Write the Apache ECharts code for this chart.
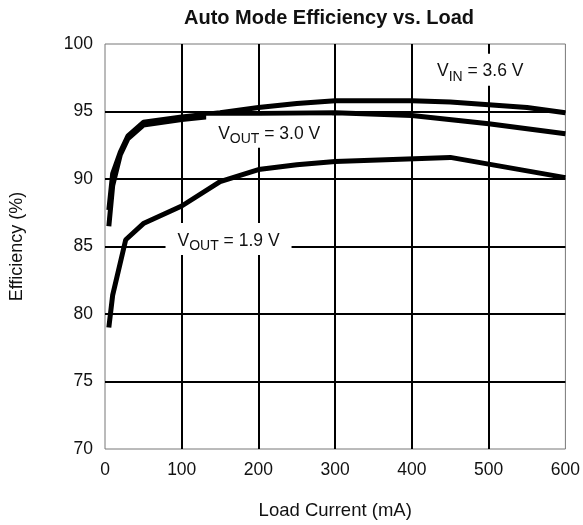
<!DOCTYPE html>
<html>
<head>
<meta charset="utf-8">
<script src="https://cdn.jsdelivr.net/npm/echarts@6/dist/echarts.min.js"></script>
<style>
html,body{margin:0;padding:0;background:#fff;}
#chart{width:583px;height:525px;}
</style>
</head>
<body>
<div id="chart"></div>
<script>
// ---- data ----
var xTicks = [0, 100, 200, 300, 400, 500, 600];
var yTicks = [70, 75, 80, 85, 90, 95, 100];

var loadTop = [5, 10, 20, 30, 50, 100, 150, 200, 250, 300, 400, 450, 500, 550, 600];
var effTop  = [87.7, 90.4, 92.0, 93.2, 94.2, 94.6, 94.9, 95.3, 95.6, 95.8, 95.8, 95.7, 95.5, 95.3, 94.9];

var loadMid = [5, 10, 20, 30, 50, 100, 150, 200, 300, 400, 500, 600];
var effMid  = [86.5, 89.5, 91.8, 93.0, 94.0, 94.4, 94.7, 94.85, 94.9, 94.7, 94.1, 93.35];

var loadLow = [5, 10, 27, 50, 100, 150, 200, 250, 300, 450, 600];
var effLow  = [79.0, 81.4, 85.5, 86.7, 88.0, 89.8, 90.7, 91.05, 91.3, 91.6, 90.1];

var noteText = ['{m|V}{s|IN}{m| = 3.6 V}', '{m|V}{s|OUT}{m| = 3.0 V}', '{m|V}{s|OUT}{m| = 1.9 V}'];
var noteLoad = [489, 214, 161];
var noteEff  = [98.1, 93.5, 85.55];

function pairs(xs, ys) { return xs.map(function (x, i) { return [x, ys[i]]; }); }

var FONT = "'Liberation Sans', Arial, Helvetica, sans-serif";
var chart = echarts.init(document.getElementById('chart'));

var labelStyle = {
  show: true,
  position: 'inside',
  backgroundColor: '#fff',
  padding: [7, 12, 5, 12],
  rich: {
    m: { fontFamily: FONT, fontSize: 17.5, color: '#111', lineHeight: 20, verticalAlign: 'bottom' },
    s: { fontFamily: FONT, fontSize: 14, color: '#111', lineHeight: 15, verticalAlign: 'bottom', padding: [0, 0, -3, 0] }
  }
};

var option = {
  animation: false,
  backgroundColor: '#fff',
  title: {
    text: 'Auto Mode Efficiency vs. Load',
    left: 324, top: 3, textAlign: 'center',
    textStyle: { fontFamily: FONT, fontSize: 20, fontWeight: 'bold', color: '#111' }
  },
  grid: { left: 105, right: 16, top: 44, bottom: 76, show: true, borderColor: '#777', borderWidth: 1, backgroundColor: 'transparent' },
  xAxis: {
    type: 'value', min: xTicks[0], max: xTicks[xTicks.length - 1], interval: 100,
    name: 'Load Current (mA)', nameLocation: 'middle', nameGap: 52,
    nameTextStyle: { fontFamily: FONT, fontSize: 18.5, color: '#111' },
    axisLine: { show: false },
    axisTick: { show: false },
    axisLabel: { margin: 12, fontFamily: FONT, fontSize: 17.5, color: '#111' },
    splitLine: { show: true, showMinLine: false, showMaxLine: false, lineStyle: { color: '#000', width: 2 } }
  },
  yAxis: {
    type: 'value', min: yTicks[0], max: yTicks[yTicks.length - 1], interval: 5,
    name: 'Efficiency (%)', nameLocation: 'middle', nameGap: 79,
    nameTextStyle: { fontFamily: FONT, fontSize: 18, color: '#111' },
    axisLine: { show: false },
    axisTick: { show: false },
    axisLabel: { margin: 12, fontFamily: FONT, fontSize: 17.5, color: '#111' },
    splitLine: { show: true, showMinLine: false, showMaxLine: false, lineStyle: { color: '#000', width: 2 } }
  },
  series: [
    { type: 'line', data: pairs(loadTop, effTop), symbol: 'none', lineStyle: { color: '#000', width: 5 }, z: 3 },
    { type: 'line', data: pairs(loadMid, effMid), symbol: 'none', lineStyle: { color: '#000', width: 5 }, z: 3 },
    {
      type: 'line', data: pairs(loadLow, effLow), symbol: 'none', lineStyle: { color: '#000', width: 5 }, z: 3,
      markPoint: {
        symbol: 'rect', symbolSize: 0, silent: true,
        data: noteText.map(function (t, i) {
          return { coord: [noteLoad[i], noteEff[i]], label: Object.assign({}, labelStyle, { formatter: t }) };
        })
      }
    }
  ]
};
chart.setOption(option);
</script>
</body>
</html>
